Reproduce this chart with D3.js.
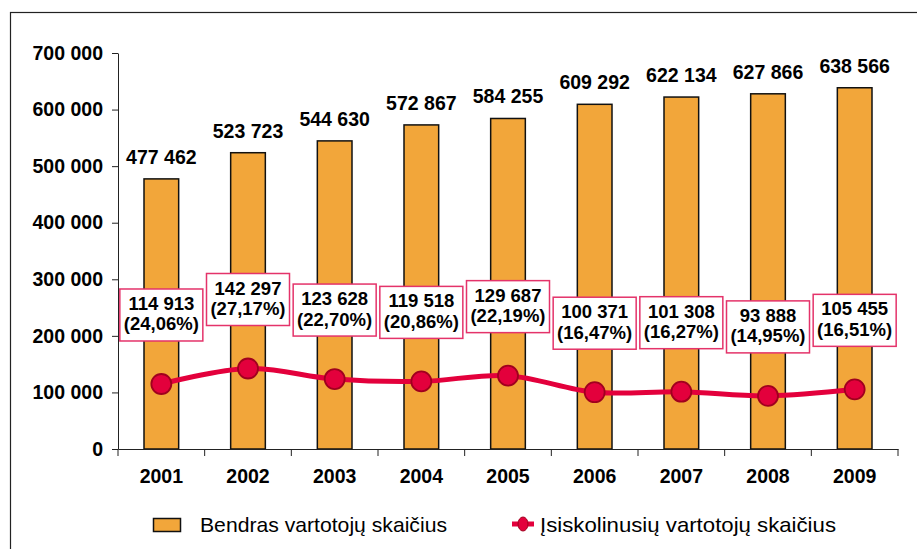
<!DOCTYPE html>
<html>
<head>
<meta charset="utf-8">
<script src="https://cdn.jsdelivr.net/npm/d3@7"></script>
<style>
  html, body { margin: 0; padding: 0; background: #fff; }
  svg { display: block; font-family: "Liberation Sans", Arial, sans-serif; }
  .axis path, .axis line { stroke: #222; stroke-width: 1px; }
  .axis text { font-size: 19.5px; font-weight: bold; fill: #000; }
</style>
</head>
<body>
<svg id="chart" width="917" height="549"></svg>
<script>
// data
var years = ['2001', '2002', '2003', '2004', '2005', '2006', '2007', '2008', '2009'];
var totalUsers = [477462, 523723, 544630, 572867, 584255, 609292, 622134, 627866, 638566];
var indebtedUsers = [114913, 142297, 123628, 119518, 129687, 100371, 101308, 93888, 105455];
var indebtedShare = ['24,06%', '27,17%', '22,70%', '20,86%', '22,19%', '16,47%', '16,27%', '14,95%', '16,51%'];
var yTicks = [0, 100000, 200000, 300000, 400000, 500000, 600000, 700000];
var legendLabels = ['Bendras vartotojų skaičius', 'Įsiskolinusių vartotojų skaičius'];

var svg = d3.select('#chart'),
	margin = {top: 53, left: 118, right: 19, bottom: 100},
	width = 917 - margin.left - margin.right,
	height = 549 - margin.top - margin.bottom;

var barColor = '#f2a63a',
	lineColor = '#e3003c';

var lt = d3.formatLocale({decimal: ',', thousands: ' ', grouping: [3], currency: ['', '']});
var fmt = lt.format(',d');

// outer frame (runs off the right and bottom edge)
svg.append('rect')
	.attr('x', 10.5).attr('y', 12.5)
	.attr('width', 940).attr('height', 560)
	.attr('fill', 'none')
	.attr('stroke', '#222')
	.attr('stroke-width', 1.2);

var g = svg.append('g')
	.attr('transform', 'translate(' + margin.left + ',' + margin.top + ')');

var x = d3.scaleBand().domain(years).range([0, width]);
var y = d3.scaleLinear().domain([0, 700000]).range([height, 0]);

// bars
g.selectAll('.bar')
	.data(totalUsers)
	.enter().append('rect')
	.attr('class', 'bar')
	.attr('x', function(d, i) { return x(years[i]) + x.bandwidth() * 0.3; })
	.attr('y', function(d) { return y(d); })
	.attr('width', x.bandwidth() * 0.4)
	.attr('height', function(d) { return height - y(d); })
	.attr('fill', barColor)
	.attr('stroke', '#111')
	.attr('stroke-width', 1.5);

// bar labels
g.selectAll('.bar-label')
	.data(totalUsers)
	.enter().append('text')
	.attr('x', function(d, i) { return x(years[i]) + x.bandwidth() / 2; })
	.attr('y', function(d) { return y(d) - 15; })
	.attr('text-anchor', 'middle')
	.style('font-size', '19.5px')
	.style('font-weight', 'bold')
	.text(function(d) { return fmt(d); });

// Y axis
g.append('g')
	.attr('class', 'axis axis-y')
	.call(d3.axisLeft(y).tickValues(yTicks).tickSizeInner(6).tickSizeOuter(0).tickPadding(9).tickFormat(fmt));

// X axis, ticks on category borders
var xAxis = g.append('g')
	.attr('class', 'axis axis-x')
	.attr('transform', 'translate(0,' + height + ')')
	.call(d3.axisBottom(x).tickSize(0).tickPadding(20));
xAxis.selectAll('.border-tick')
	.data(d3.range(years.length + 1))
	.enter().append('line')
	.attr('x1', function(i) { return i * x.step(); })
	.attr('x2', function(i) { return i * x.step(); })
	.attr('y1', 0).attr('y2', 7);

// indebted users line
var cx = function(i) { return x(years[i]) + x.bandwidth() / 2; };
var line = d3.line()
	.x(function(d, i) { return cx(i); })
	.y(function(d) { return y(d); })
	.curve(d3.curveCatmullRom.alpha(0.5));

g.append('path')
	.attr('d', line(indebtedUsers))
	.attr('fill', 'none')
	.attr('stroke', lineColor)
	.attr('stroke-width', 5);

g.selectAll('.dot')
	.data(indebtedUsers)
	.enter().append('circle')
	.attr('cx', function(d, i) { return cx(i); })
	.attr('cy', function(d) { return y(d); })
	.attr('r', 10)
	.attr('fill', lineColor)
	.attr('stroke', '#a0001e')
	.attr('stroke-width', 1.8);

// label boxes above the points
var boxW = 83, boxH = 52;
var boxes = g.selectAll('.box')
	.data(indebtedUsers)
	.enter().append('g')
	.attr('transform', function(d, i) {
		return 'translate(' + (cx(i) - boxW / 2) + ',' + (y(d) - 43 - boxH) + ')';
	});
boxes.append('rect')
	.attr('width', boxW).attr('height', boxH)
	.attr('fill', '#fff')
	.attr('stroke', '#e4336a')
	.attr('stroke-width', 1.5);
boxes.append('text')
	.attr('x', boxW / 2).attr('y', 21)
	.attr('text-anchor', 'middle')
	.style('font-size', '18.5px').style('font-weight', 'bold')
	.text(function(d) { return fmt(d); });
boxes.append('text')
	.attr('x', boxW / 2).attr('y', 41.5)
	.attr('text-anchor', 'middle')
	.style('font-size', '18.5px').style('font-weight', 'bold')
	.text(function(d, i) { return '(' + indebtedShare[i] + ')'; });

// legend
var legend = svg.append('g').attr('class', 'legend');
legend.append('rect')
	.attr('x', 153.5).attr('y', 518.5).attr('width', 27).attr('height', 13)
	.attr('fill', barColor).attr('stroke', '#111').attr('stroke-width', 1.5);
legend.append('text')
	.attr('x', 200).attr('y', 532)
	.style('font-size', '21px')
	.attr('textLength', 247)
	.attr('lengthAdjust', 'spacingAndGlyphs')
	.text(legendLabels[0]);
legend.append('line')
	.attr('x1', 512).attr('x2', 534).attr('y1', 524).attr('y2', 524)
	.attr('stroke', lineColor).attr('stroke-width', 5);
legend.append('ellipse')
	.attr('cx', 523).attr('cy', 524).attr('rx', 5).attr('ry', 7)
	.attr('fill', lineColor).attr('stroke', '#a0001e').attr('stroke-width', 1);
legend.append('text')
	.attr('x', 540).attr('y', 532)
	.style('font-size', '21px')
	.attr('textLength', 296)
	.attr('lengthAdjust', 'spacingAndGlyphs')
	.text(legendLabels[1]);
</script>
</body>
</html>
